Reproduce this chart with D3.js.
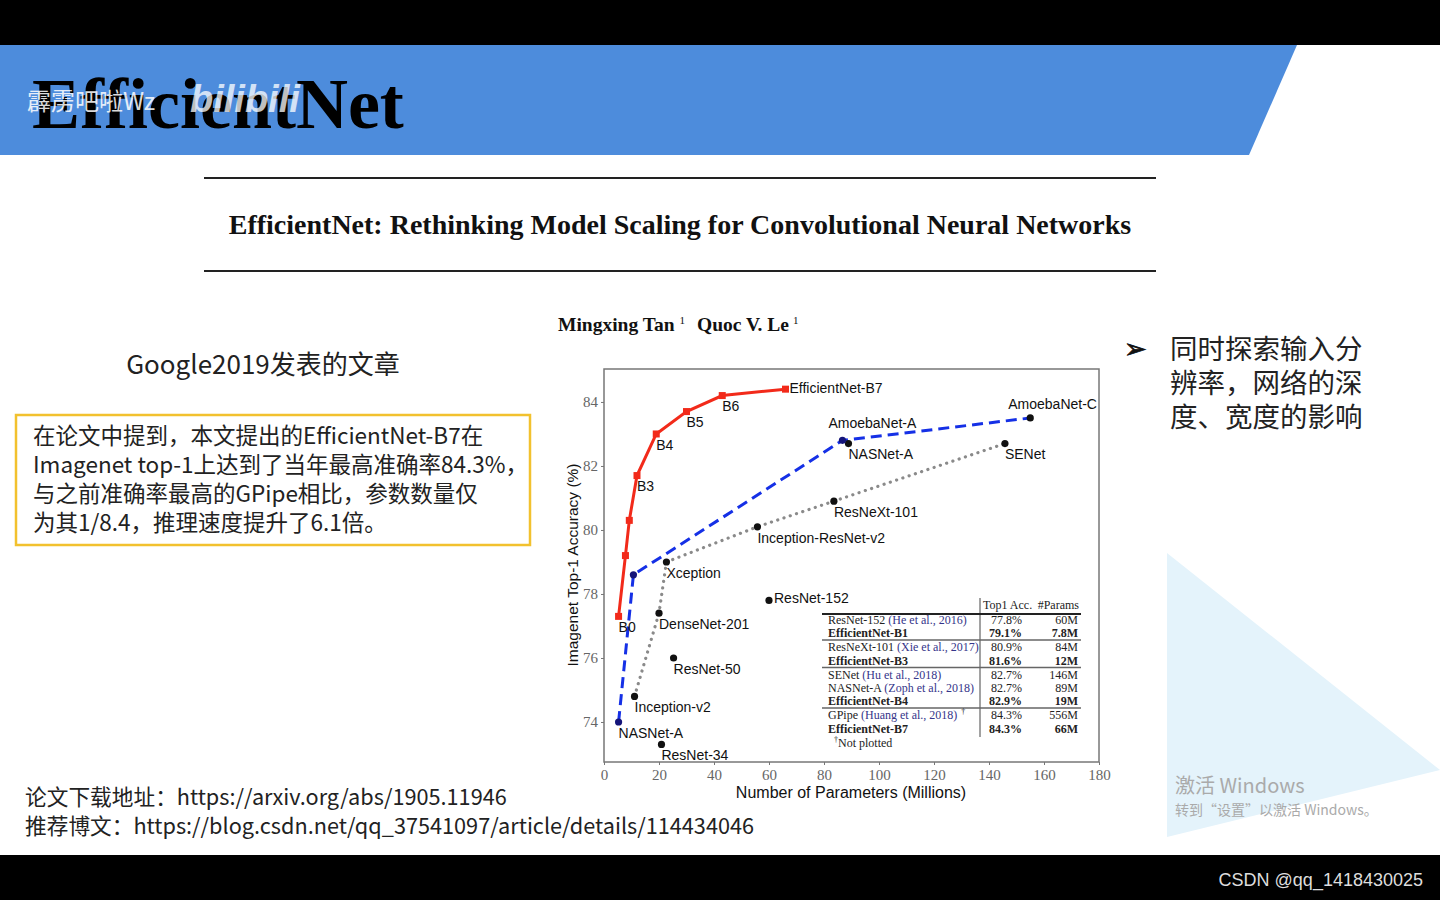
<!DOCTYPE html>
<html>
<head>
<meta charset="utf-8">
<script src="https://cdn.jsdelivr.net/npm/d3@7"></script>
<style>
  body { margin: 0; background: #fff; }
  svg { display: block; }
  .tick text { font-family: "Liberation Serif", serif; font-size: 15px; fill: #666; }
  .tick line { stroke: #777; }
  .domain { display: none; }
</style>
</head>
<body>
<svg id="slide" width="1440" height="900"></svg>
<script>
// EfficientNet family (red)
var effParams = [5.3, 7.8, 9.2, 12, 19, 30, 43, 66];
var effAcc    = [77.3, 79.2, 80.3, 81.7, 83.0, 83.7, 84.2, 84.4];
var effLabels = ['B0', '', '', 'B3', 'B4', 'B5', 'B6', 'EfficientNet-B7'];

// NAS models (blue dashed)
var nasParams = [5.3, 10.7, 86.7, 155];
var nasAcc    = [74.0, 78.6, 82.8, 83.5];
var nasLabels = ['NASNet-A', '', 'AmoebaNet-A', 'AmoebaNet-C'];

// hand-designed models (gray dotted)
var baseParams = [11.1, 20.0, 22.7, 55.8, 83.6, 145.8];
var baseAcc    = [74.8, 77.4, 79.0, 80.1, 80.9, 82.7];
var baseLabels = ['Inception-v2', 'DenseNet-201', 'Xception', 'Inception-ResNet-v2', 'ResNeXt-101', 'SENet'];

// single points
var otherParams = [88.9, 60.0, 25.3, 20.9];
var otherAcc    = [82.7, 77.8, 76.0, 73.3];
var otherLabels = ['NASNet-A', 'ResNet-152', 'ResNet-50', 'ResNet-34'];

var xTicks = [0, 20, 40, 60, 80, 100, 120, 140, 160, 180];
var yTicks = [74, 76, 78, 80, 82, 84];

// inset table
var tblModels = ['ResNet-152', 'EfficientNet-B1', 'ResNeXt-101', 'EfficientNet-B3', 'SENet', 'NASNet-A', 'EfficientNet-B4', 'GPipe', 'EfficientNet-B7'];
var tblCites  = ['(He et al., 2016)', '', '(Xie et al., 2017)', '', '(Hu et al., 2018)', '(Zoph et al., 2018)', '', '(Huang et al., 2018)', ''];
var tblAcc    = ['77.8%', '79.1%', '80.9%', '81.6%', '82.7%', '82.7%', '82.9%', '84.3%', '84.3%'];
var tblParams = ['60M', '7.8M', '84M', '12M', '146M', '89M', '19M', '556M', '66M'];
var tblGroup  = [0, 0, 1, 1, 2, 2, 2, 3, 3];

var svg = d3.select('#slide');
var cjk = '"Noto Sans CJK SC", "Noto Sans", sans-serif';
var serif = '"Liberation Serif", "DejaVu Serif", serif';
var sans = '"Liberation Sans", Arial, sans-serif';

// ---- slide frame ----
svg.append('rect').attr('x', 0).attr('y', 0).attr('width', 1440).attr('height', 45).attr('fill', '#000');
svg.append('rect').attr('x', 0).attr('y', 855).attr('width', 1440).attr('height', 45).attr('fill', '#000');
svg.append('polygon')
    .attr('points', [[0, 45], [1297, 45], [1249, 155], [0, 155]].join(' '))
    .attr('fill', '#4d8cdc');
svg.append('polygon')
    .attr('points', [[1167, 553], [1440, 770], [1167, 837]].join(' '))
    .attr('fill', '#e4f3fb');

svg.append('text')
    .attr('x', 32).attr('y', 128)
    .text('EfficientNet')
    .style('font-family', serif).style('font-weight', 'bold')
    .style('font-size', '72px').style('fill', '#000');
svg.append('text')
    .attr('x', 27).attr('y', 110)
    .text('霹雳吧啦Wz')
    .style('font-family', cjk).style('font-size', '24px')
    .style('fill', '#fff').style('opacity', 0.85);
svg.append('text')
    .attr('x', 190).attr('y', 112)
    .text('bilibili')
    .style('font-family', sans).style('font-weight', 'bold').style('font-style', 'italic')
    .style('font-size', '38px').style('fill', '#fff').style('opacity', 0.75);

// paper heading
svg.selectAll('.rule').data([178, 271]).enter().append('line')
    .attr('class', 'rule')
    .attr('x1', 204).attr('x2', 1156)
    .attr('y1', function (d) { return d; }).attr('y2', function (d) { return d; })
    .attr('stroke', '#222').attr('stroke-width', 2);
svg.append('text')
    .attr('x', 680).attr('y', 234)
    .text('EfficientNet: Rethinking Model Scaling for Convolutional Neural Networks')
    .style('font-family', serif).style('font-weight', 'bold').style('font-size', '28px')
    .style('text-anchor', 'middle').style('fill', '#111');
var auth = svg.append('text')
    .attr('x', 558).attr('y', 331)
    .style('font-family', serif).style('font-weight', 'bold').style('font-size', '19.5px').style('fill', '#111');
auth.append('tspan').text('Mingxing Tan');
auth.append('tspan').attr('dx', 5).attr('dy', -7).style('font-size', '11px').style('font-weight', 'normal').text('1');
auth.append('tspan').attr('dx', 12).attr('dy', 7).text('Quoc V. Le');
auth.append('tspan').attr('dx', 4).attr('dy', -7).style('font-size', '11px').style('font-weight', 'normal').text('1');

// left notes
svg.append('text')
    .attr('x', 263).attr('y', 374)
    .text('Google2019发表的文章')
    .style('font-family', cjk).style('font-size', '26px')
    .style('text-anchor', 'middle').style('fill', '#222');
svg.append('rect')
    .attr('x', 16).attr('y', 415).attr('width', 514).attr('height', 130)
    .attr('fill', 'none').attr('stroke', '#f2c12e').attr('stroke-width', 2.5);
var noteLines = [
    '在论文中提到，本文提出的EfficientNet-B7在',
    'Imagenet top-1上达到了当年最高准确率84.3%，',
    '与之前准确率最高的GPipe相比，参数数量仅',
    '为其1/8.4，推理速度提升了6.1倍。'
];
svg.selectAll('.note').data(noteLines).enter().append('text')
    .attr('class', 'note')
    .attr('x', 33)
    .attr('y', function (d, i) { return 444 + i * 29; })
    .text(function (d) { return d; })
    .style('font-family', cjk).style('font-size', '22.5px').style('fill', '#222');

// right bullet
svg.append('text')
    .attr('x', 1124).attr('y', 358)
    .text('➢')
    .style('font-family', '"DejaVu Sans", sans-serif').style('font-size', '27px')
    .style('fill', '#111').style('stroke', '#111').style('stroke-width', 0.8);
var bulletLines = ['同时探索输入分', '辨率，网络的深', '度、宽度的影响'];
svg.selectAll('.bullet').data(bulletLines).enter().append('text')
    .attr('class', 'bullet')
    .attr('x', 1170)
    .attr('y', function (d, i) { return 359 + i * 34; })
    .text(function (d) { return d; })
    .style('font-family', cjk).style('font-size', '27.5px').style('fill', '#222');

// links
var linkLines = ['论文下载地址：https://arxiv.org/abs/1905.11946',
                 '推荐博文：https://blog.csdn.net/qq_37541097/article/details/114434046'];
svg.selectAll('.link').data(linkLines).enter().append('text')
    .attr('class', 'link')
    .attr('x', 25)
    .attr('y', function (d, i) { return 805 + i * 29; })
    .text(function (d) { return d; })
    .style('font-family', cjk).style('font-size', '21.7px').style('fill', '#222');

// watermarks
svg.append('text').attr('x', 1175).attr('y', 793).text('激活 Windows')
    .style('font-family', cjk).style('font-size', '20px').style('fill', '#aaa');
svg.append('text').attr('x', 1175).attr('y', 815).text('转到“设置”以激活 Windows。')
    .style('font-family', cjk).style('font-size', '14px').style('fill', '#aaa');
svg.append('text').attr('x', 1423).attr('y', 886).text('CSDN @qq_1418430025')
    .style('font-family', sans).style('font-size', '18px').style('fill', '#ddd')
    .style('text-anchor', 'end');

// ---- chart ----
var plot = { l: 604, r: 1099, t: 369, b: 762 };
var x = d3.scaleLinear().domain([0, 180]).range([plot.l, plot.r]);
var y = d3.scaleLinear().domain([72.75, 85.03]).range([plot.b, plot.t]);

svg.append('rect')
    .attr('x', plot.l).attr('y', plot.t)
    .attr('width', plot.r - plot.l).attr('height', plot.b - plot.t)
    .attr('fill', '#fff').attr('stroke', '#777').attr('stroke-width', 1.5);

svg.append('g')
    .attr('transform', 'translate(' + [0, plot.b] + ')')
    .call(d3.axisBottom(x).tickValues(xTicks).tickSize(3).tickPadding(4));
svg.append('g')
    .attr('transform', 'translate(' + [plot.l, 0] + ')')
    .call(d3.axisLeft(y).tickValues(yTicks).tickSize(3).tickPadding(3));

svg.append('text')
    .attr('x', 851).attr('y', 798)
    .text('Number of Parameters (Millions)')
    .style('font-family', sans).style('font-size', '16px')
    .style('text-anchor', 'middle').style('fill', '#111');
svg.append('text')
    .attr('transform', 'translate(' + [578, 565] + ') rotate(-90)')
    .text('Imagenet Top-1 Accuracy (%)')
    .style('font-family', sans).style('font-size', '15.5px')
    .style('text-anchor', 'middle').style('fill', '#111');

function pts(px, py) { return px.map(function (p, i) { return [p, py[i]]; }); }
var line = d3.line().x(function (d) { return x(d[0]); }).y(function (d) { return y(d[1]); });

// gray dotted
svg.append('path').datum(pts(baseParams, baseAcc))
    .attr('d', line).attr('fill', 'none')
    .attr('stroke', '#8a8a8a').attr('stroke-width', 3.2)
    .attr('stroke-linecap', 'round').attr('stroke-dasharray', '0.1,6.5');
// blue dashed
svg.append('path').datum(pts(nasParams, nasAcc))
    .attr('d', line).attr('fill', 'none')
    .attr('stroke', '#1530e6').attr('stroke-width', 3)
    .attr('stroke-dasharray', '11,6');
// red solid
svg.append('path').datum(pts(effParams, effAcc))
    .attr('d', line).attr('fill', 'none')
    .attr('stroke', '#f22a1a').attr('stroke-width', 3);

var dots = pts(baseParams, baseAcc).concat(pts(otherParams, otherAcc));
svg.selectAll('.dot').data(dots).enter().append('circle')
    .attr('class', 'dot')
    .attr('cx', function (d) { return x(d[0]); }).attr('cy', function (d) { return y(d[1]); })
    .attr('r', 3.6).attr('fill', '#111');
svg.selectAll('.nasdot').data(pts(nasParams, nasAcc)).enter().append('circle')
    .attr('class', 'nasdot')
    .attr('cx', function (d) { return x(d[0]); }).attr('cy', function (d) { return y(d[1]); })
    .attr('r', 3.6).attr('fill', function (d, i) { return i === 3 ? '#111' : '#14147a'; });
svg.selectAll('.sq').data(pts(effParams, effAcc)).enter().append('rect')
    .attr('class', 'sq')
    .attr('x', function (d) { return x(d[0]) - 3.5; }).attr('y', function (d) { return y(d[1]) - 3.5; })
    .attr('width', 7).attr('height', 7).attr('fill', '#f22a1a');

// labels: default below the point, a few placed by hand
var labelShift = {
    'EfficientNet-B7': [4, -1],
    'ResNet-152': [5, -2],
    'AmoebaNet-A': [-14, -17],
    'AmoebaNet-C': [-22, -14]
};
var labelled = [];
[[effParams, effAcc, effLabels], [nasParams, nasAcc, nasLabels],
 [baseParams, baseAcc, baseLabels], [otherParams, otherAcc, otherLabels]].forEach(function (s) {
    s[2].forEach(function (name, i) {
        if (name) labelled.push({ name: name, p: s[0][i], a: s[1][i] });
    });
});
svg.selectAll('.plabel').data(labelled).enter().append('text')
    .attr('class', 'plabel')
    .attr('x', function (d) { var s = labelShift[d.name] || [0, 11]; return x(d.p) + s[0]; })
    .attr('y', function (d) { var s = labelShift[d.name] || [0, 11]; return y(d.a) + s[1]; })
    .attr('dy', '0.35em')
    .text(function (d) { return d.name; })
    .style('font-family', sans).style('font-size', '14px').style('fill', '#111');

// ---- inset table ----
var tbl = svg.append('g').attr('class', 'table')
    .style('font-family', serif).style('font-size', '12px').style('fill', '#222');
var rowY = function (i) { return 620 + i * 13.3 + tblGroup[i] * 0.7; };
tbl.append('line').attr('x1', 980).attr('x2', 980).attr('y1', 598).attr('y2', 737)
    .attr('stroke', '#444').attr('stroke-width', 1);
tbl.append('line').attr('x1', 822).attr('x2', 1081).attr('y1', 614).attr('y2', 614)
    .attr('stroke', '#222').attr('stroke-width', 1.8);
[640, 667.5, 708].forEach(function (yy) {
    tbl.append('line').attr('x1', 822).attr('x2', 1081).attr('y1', yy).attr('y2', yy)
        .attr('stroke', '#666').attr('stroke-width', 1.3);
});
tbl.append('text').attr('x', 983).attr('y', 609).text('Top1 Acc.');
tbl.append('text').attr('x', 1079).attr('y', 609).text('#Params').style('text-anchor', 'end');

tblModels.forEach(function (m, i) {
    var bold = m.indexOf('EfficientNet') === 0;
    var t = tbl.append('text').attr('x', 828).attr('y', rowY(i) + 4)
        .style('font-weight', bold ? 'bold' : 'normal');
    t.append('tspan').text(m);
    if (tblCites[i]) t.append('tspan').text(' ' + tblCites[i]).style('fill', '#35358a');
    if (m === 'GPipe') t.append('tspan').attr('dx', 4).attr('dy', -5).style('font-size', '8px').text('†');
    tbl.append('text').attr('x', 1022).attr('y', rowY(i) + 4).text(tblAcc[i])
        .style('text-anchor', 'end').style('font-weight', bold ? 'bold' : 'normal');
    tbl.append('text').attr('x', 1078).attr('y', rowY(i) + 4).text(tblParams[i])
        .style('text-anchor', 'end').style('font-weight', bold ? 'bold' : 'normal');
});
var np = tbl.append('text').attr('x', 834).attr('y', 747);
np.append('tspan').attr('dy', -5).style('font-size', '8px').text('†');
np.append('tspan').attr('dy', 5).text('Not plotted');
</script>
</body>
</html>
